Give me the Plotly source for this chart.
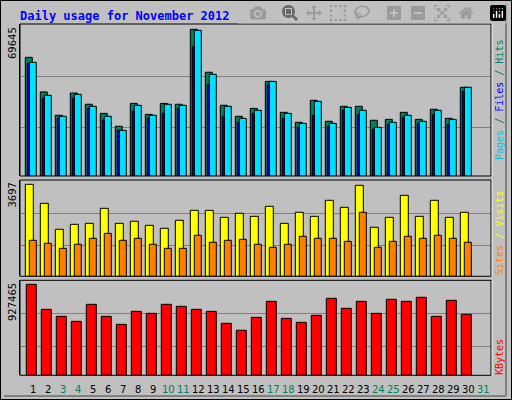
import plotly.graph_objects as go

days = list(range(1, 31))
day_labels = [str(d) for d in range(1, 32)]
weekend = [3, 4, 10, 11, 17, 18, 24, 25, 31]

hits = [56343, 39907, 28833, 39419, 34056, 29738, 23610, 34474, 29251, 34474,
        34056, 69645, 49239, 33569, 28346, 32106, 44921, 30226, 25490, 35937,
        25978, 33081, 33081, 26465, 26883, 30226, 26883, 31688, 27370, 42135]
files = [53975, 38305, 28346, 38792, 33081, 28346, 21660, 33569, 28833, 34056,
         33569, 69157, 48264, 33081, 27370, 31201, 44921, 29738, 25003, 35449,
         25003, 32594, 31201, 23122, 25490, 28833, 25978, 31201, 26883, 42135]
pages = [53487, 36912, 27370, 36912, 32106, 26604, 21660, 30853, 27370, 29738,
         32106, 61566, 43528, 28346, 25490, 29738, 43528, 27370, 23122, 28833,
         23610, 31201, 29251, 22147, 24515, 27858, 25003, 29251, 24515, 40185]
visits = [3697, 2932, 1889, 2089, 2129, 2732, 2129, 2211, 2048, 1930,
          2251, 2651, 2651, 2370, 2532, 2410, 2813, 2129, 2573, 2410,
          3054, 2773, 3656, 1970, 2370, 3253, 2410, 3054, 2370, 2573]
sites = [1446, 1327, 1124, 1287, 1527, 1726, 1446, 1527, 1287, 1124,
         1124, 1649, 1368, 1446, 1486, 1287, 1165, 1287, 1608, 1527,
         1527, 1405, 2573, 1165, 1405, 1608, 1527, 1649, 1527, 1368]
kbytes = [927465, 672412, 601007, 549987, 723423, 601007, 519380, 652008, 631604, 723423,
          703018, 672412, 652008, 529583, 459095, 590795, 754029, 580593, 539785, 611199,
          784635, 682614, 754029, 631604, 774433, 754029, 794838, 601007, 764231, 621402]

W, H = 512, 400
BG = "#C0C0C0"
line = dict(color="black", width=1)

fig = go.Figure()
def bar(y, color, off, w, ax):
    fig.add_trace(go.Bar(x=days, y=y, marker=dict(color=color, line=line),
                         offset=off, width=w, xaxis="x", yaxis=ax, hoverinfo="skip"))

bar(hits, "#008060", -0.533, 0.467, "y")
bar(files, "#00E0FF", -0.267, 0.467, "y")
bar(pages, "#0000FF", -0.4, 0.133, "y")
bar(visits, "#FFFF00", -0.533, 0.533, "y2")
bar(sites, "#FF8000", -0.267, 0.467, "y2")
bar(kbytes, "#FF0000", -0.467, 0.667, "y3")

def py(p):
    return 1 - p / H

xr = [(20 - 33.3) / 15 + 1, (491 - 33.3) / 15 + 1]
ax_common = dict(showline=True, linecolor="black", mirror=True, zeroline=False,
                 showticklabels=False, ticks="", gridcolor="#808080", gridwidth=1)
fig.update_layout(
    width=W, height=H, margin=dict(l=0, r=0, t=0, b=0),
    paper_bgcolor=BG, plot_bgcolor=BG, showlegend=False, barmode="overlay",
    xaxis=dict(domain=[20 / W, 491 / W], range=xr, showticklabels=False, showgrid=False,
               zeroline=False, ticks="", anchor="y3"),
    yaxis=dict(domain=[py(176), py(24)], range=[0, 72161],
               tickvals=[23120, 47140], **ax_common),
    yaxis2=dict(domain=[py(276.3), py(180)], range=[0, 3870],
                tickvals=[1218, 2532], **ax_common),
    yaxis3=dict(domain=[py(375.3), py(280.3)], range=[0, 968232],
                tickvals=[295566, 631900], **ax_common),
)
for (t, b) in [(24, 176), (180, 276.3), (280.3, 375.3)]:
    fig.add_shape(type="rect", xref="paper", yref="paper", x0=20 / W, x1=491 / W,
                  y0=py(b), y1=py(t), line=dict(color="black", width=1))
    fig.add_shape(type="line", xref="paper", yref="paper", x0=492 / W, x1=492 / W,
                  y0=py(b), y1=py(t), line=dict(color="white", width=1))
fig.add_shape(type="rect", xref="paper", yref="paper", x0=0.5 / W, x1=511.5 / W,
              y0=py(399.5), y1=py(0.5), line=dict(color="black", width=1))
fig.add_shape(type="line", xref="paper", yref="paper", x0=506 / W, x1=506 / W,
              y0=py(396), y1=py(4), line=dict(color="#808080", width=2))
fig.add_shape(type="line", xref="paper", yref="paper", x0=4 / W, x1=506 / W,
              y0=py(396), y1=py(396), line=dict(color="#808080", width=2))

mono = "DejaVu Sans Mono"
fig.add_annotation(text="<b>Daily usage for November 2012</b>", xref="paper", yref="paper",
                   x=18 / W, y=py(16), xanchor="left", yanchor="middle", showarrow=False,
                   font=dict(family=mono, size=12, color="#0000FF"))
for txt, top in [("69645", 25), ("3697", 181), ("927465", 281)]:
    fig.add_annotation(text=txt, xref="paper", yref="paper", x=12 / W, y=py(top),
                       xanchor="center", yanchor="top", textangle=-90, showarrow=False,
                       font=dict(family="DejaVu Sans", size=10, color="black"))
right_top = ('<span style="color:#00C0E0">Pages</span><span style="color:#008060"> / </span>'
             '<span style="color:#0000FF">Files</span><span style="color:#008060"> / Hits</span>')
right_mid = '<span style="color:#FF8000">Sites</span><span style="color:#FFFF00"> / Visits</span>'
right_bot = '<span style="color:#FF0000">KBytes</span>'
fig.add_annotation(text=right_top, xref="paper", yref="paper", x=499 / W, y=py(100),
                   xanchor="center", yanchor="middle", textangle=-90, showarrow=False,
                   font=dict(family=mono, size=10))
fig.add_annotation(text=right_mid, xref="paper", yref="paper", x=499 / W, y=py(277),
                   xanchor="center", yanchor="bottom", textangle=-90, showarrow=False,
                   font=dict(family=mono, size=10))
fig.add_annotation(text=right_bot, xref="paper", yref="paper", x=499 / W, y=py(377),
                   xanchor="center", yanchor="bottom", textangle=-90, showarrow=False,
                   font=dict(family=mono, size=10))
for i, lab in enumerate(day_labels):
    d = i + 1
    fig.add_annotation(text=lab, xref="x", yref="paper", x=d, y=py(389),
                       xanchor="center", yanchor="middle", showarrow=False,
                       font=dict(family="DejaVu Sans", size=10,
                                 color="#008060" if d in weekend else "black"))

fig.write_html("out.html",
               post_script="document.body.style.margin='0';document.body.style.overflow='hidden';")
